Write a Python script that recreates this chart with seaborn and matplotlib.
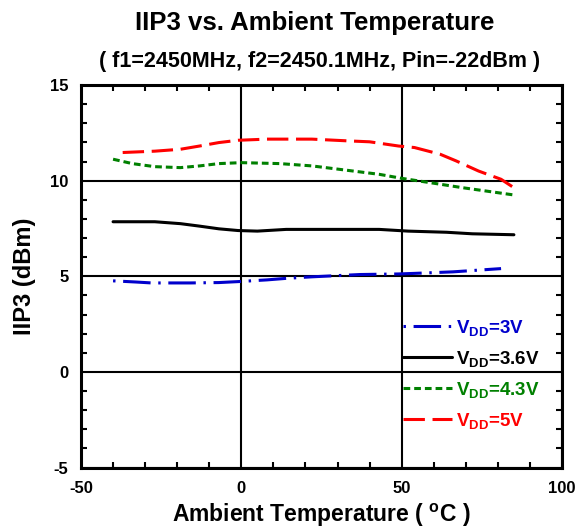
import matplotlib
matplotlib.use("Agg")
import matplotlib.pyplot as plt
import seaborn as sns
import pandas as pd
from matplotlib.lines import Line2D
from matplotlib.ticker import MultipleLocator

# ---- data ----
temp_3v = [-40, -33, -28, -16, -7, -1, 8, 14, 22, 37, 49, 54, 66, 81]
iip3_3v = [4.76, 4.70, 4.65, 4.65, 4.67, 4.72, 4.81, 4.89, 4.97, 5.09, 5.12, 5.15, 5.23, 5.40]

temp_36v = [-40, -27, -19, -13, -7, -1, 5, 14, 43, 52, 64, 72, 85]
iip3_36v = [7.85, 7.85, 7.75, 7.62, 7.48, 7.39, 7.36, 7.45, 7.45, 7.36, 7.30, 7.22, 7.17]

temp_43v = [-40, -34, -27, -19, -13, -7, 0, 12, 22, 33, 43, 50, 59, 69, 85]
iip3_43v = [11.12, 10.89, 10.73, 10.68, 10.77, 10.89, 10.94, 10.89, 10.77, 10.54, 10.33, 10.12, 9.89, 9.63, 9.25]

temp_5v = [-37, -27, -19, -13, -7, -1, 8, 22, 33, 40, 49, 54, 62, 67, 74, 81, 85]
iip3_5v = [11.47, 11.54, 11.64, 11.81, 11.99, 12.11, 12.17, 12.17, 12.08, 12.03, 11.81, 11.73, 11.38, 11.03, 10.50, 10.07, 9.63]

series_labels = [r'$\mathrm{V_{DD}}$=3V', r'$\mathrm{V_{DD}}$=3.6V',
                 r'$\mathrm{V_{DD}}$=4.3V', r'$\mathrm{V_{DD}}$=5V']
series_colors = ['#0000CC', '#000000', '#008000', '#FF0000']
series_styles = [(0, (0.8, 2.5, 9, 2.5)), '-', (0, (2.2, 1.3)), (0, (7, 2.5))]

xticks = [-50, 0, 50, 100]
yticks = [-5, 0, 5, 10, 15]

title = 'IIP3 vs. Ambient Temperature'
subtitle = '( f1=2450MHz, f2=2450.1MHz, Pin=-22dBm )'
xlabel = r'Ambient Temperature ( $^{\mathrm{o}}$C )'
ylabel = 'IIP3 (dBm)'

# ---- style ----
sns.set_style('white')
plt.rcParams['font.family'] = ['Liberation Sans', 'DejaVu Sans']
plt.rcParams['font.weight'] = 'bold'
plt.rcParams['mathtext.fontset'] = 'custom'
plt.rcParams['mathtext.rm'] = 'Liberation Sans:bold'
plt.rcParams['mathtext.it'] = 'Liberation Sans:bold'
plt.rcParams['mathtext.bf'] = 'Liberation Sans:bold'
plt.rcParams['axes.unicode_minus'] = False
for k in ['text.color', 'axes.labelcolor', 'xtick.color', 'ytick.color', 'axes.edgecolor']:
    plt.rcParams[k] = 'black'

fig = plt.figure(figsize=(5.81, 5.30), dpi=100)
ax = fig.add_axes([81 / 581, 1 - 467.5 / 530, (562 - 81) / 581, (467.5 - 85) / 530])

all_x = [temp_3v, temp_36v, temp_43v, temp_5v]
all_y = [iip3_3v, iip3_36v, iip3_43v, iip3_5v]
for xs, ys, lab, col, ls in zip(all_x, all_y, series_labels, series_colors, series_styles):
    df = pd.DataFrame({'T': xs, 'IIP3': ys})
    sns.lineplot(data=df, x='T', y='IIP3', ax=ax, color=col, linewidth=2.2,
                 linestyle=ls, label=lab, legend=False)

ax.set_xlim(-50, 100)
ax.set_ylim(-5, 15)
ax.set_xticks(xticks)
ax.set_yticks(yticks)
ax.xaxis.set_minor_locator(MultipleLocator(10))
ax.yaxis.set_minor_locator(MultipleLocator(1))
ax.grid(True, which='major', color='black', linewidth=1.5)
ax.tick_params(which='major', length=0, labelsize=12, pad=10)
ax.tick_params(axis='y', which='major', pad=9)
ax.tick_params(which='minor', direction='in', length=4.5, width=1.5,
               top=True, right=True, bottom=True, left=True, color='black')
for lbl in ax.get_xticklabels() + ax.get_yticklabels():
    lbl.set_fontweight('bold')
for sp in ax.spines.values():
    sp.set_linewidth(2.2)
    sp.set_color('black')

ax.set_xlabel(xlabel, fontsize=16.5, fontweight='bold', labelpad=4)
ax.set_ylabel(ylabel, fontsize=17, fontweight='bold', labelpad=10)

fig.text(315 / 581, 1 - 23 / 530, title, ha='center', va='center', fontsize=18.5, fontweight='bold')
fig.text(320 / 581, 1 - 61 / 530, subtitle, ha='center', va='center', fontsize=15.5, fontweight='bold')

handles = [Line2D([], [], color=c, linewidth=2.2, linestyle=s) for c, s in zip(series_colors, series_styles)]
leg = ax.legend(handles, series_labels, loc='upper left',
                bbox_to_anchor=(403 / 581, 1 - 318 / 530), bbox_transform=fig.transFigure,
                frameon=False, fontsize=13.5, handlelength=2.6, handletextpad=0.25,
                labelspacing=0.58, borderpad=0, borderaxespad=0, labelcolor='linecolor')

fig.savefig('out.png', dpi=100)
